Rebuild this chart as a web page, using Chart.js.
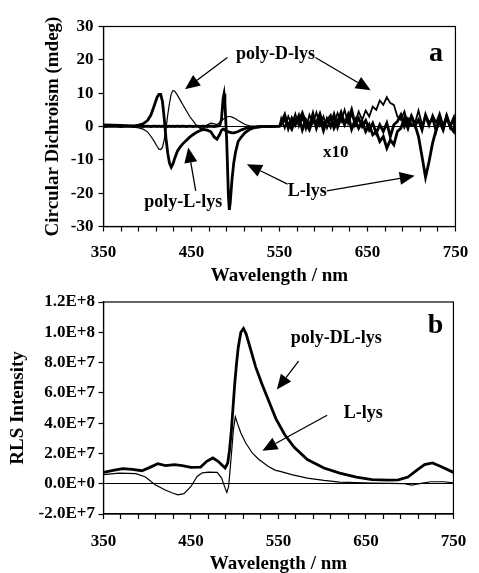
<!DOCTYPE html>
<html>
<head>
<meta charset="utf-8">
<script src="https://cdn.jsdelivr.net/npm/chart.js@4.4.1/dist/chart.umd.min.js"></script>
<style>
  html, body { margin: 0; padding: 0; background: #fff; overflow: hidden; }
  #wrapA { position: absolute; left: 0; top: 0; width: 479px; height: 290px; }
  #wrapB { position: absolute; left: 0; top: 285px; width: 479px; height: 295px; }
</style>
</head>
<body>
<div id="wrapA"><canvas id="cdChart" width="479" height="290"></canvas></div>
<div id="wrapB"><canvas id="rlsChart" width="479" height="295"></canvas></div>
<script>
// Panel a: circular dichroism, 350-550 nm as measured
const cdX = [350, 360, 370, 380, 385, 390, 395, 400, 404, 408, 411, 413, 415, 417, 419,
  421, 423, 425, 427, 429, 431, 434, 437, 440, 444, 448, 452, 456, 460,
  464, 468, 472, 476, 479, 482, 484, 486, 487, 488, 490, 492, 493, 494, 496, 498, 500,
  503, 507, 511, 516, 522, 530, 540, 550];
const polyDcd = [0.2, 0.0, 0.1, 0.0, -0.2, -0.4, -0.8, -1.6, -3.0, -4.6, -6.0, -6.8, -6.9, -6.3, -4.0,
  -0.8, 3.5, 7.0, 9.8, 10.8, 10.6, 9.4, 8.0, 6.6, 4.8, 3.0, 1.6, 0.2, -0.6,
  -0.4, 0.5, 1.0, 0.8, 0.6, 1.2, 1.8, 2.2, 2.4, 2.6, 2.8, 3.0, 3.0, 3.0, 2.8, 2.6, 2.3,
  1.8, 1.2, 0.6, 0.2, 0.0, 0.1, 0.0, 0.1];
const polyLcd = [0.5, 0.4, 0.3, 0.2, 0.2, 0.4, 0.8, 1.8, 3.5, 6.5, 8.8, 9.6, 9.6, 7.5, 2.5,
  -3.5, -8.0, -11.0, -12.2, -11.2, -9.5, -7.4, -6.2, -5.2, -4.2, -3.2, -2.4, -1.7, -1.2,
  -0.9, -1.1, -1.6, -3.2, -3.8, -2.4, -1.2, -0.8, -0.9, -1.1, -1.4, -1.6, -1.7, -1.8, -1.9, -1.9, -1.8,
  -1.5, -1.0, -0.6, -0.3, -0.1, 0.0, 0.0, 0.1];
const lLyscd = [0.0, 0.1, 0.0, 0.1, 0.0, 0.1, 0.0, 0.1, 0.0, 0.1, 0.0, 0.1, 0.0, 0.1, 0.0,
  0.1, 0.0, 0.1, 0.0, 0.1, 0.0, 0.1, 0.0, 0.1, 0.0, 0.1, 0.0, 0.1, 0.0,
  0.1, 0.0, 0.1, 0.0, 0.1, 0.2, 2.0, 8.5, 9.8, 7.0, -4.0, -21.0, -25.0, -23.0, -16.0, -11.0, -7.8,
  -4.5, -3.0, -1.8, -0.9, -0.3, 0.0, 0.0, 0.1];

// Panel a, 550-750 nm shown x10
const x10X = [552, 556, 560, 564, 568, 572, 576, 580, 584, 588, 592, 596, 600, 604, 608, 612, 616,
  620, 624, 628, 632, 636, 640, 644, 648, 652, 656, 660, 664, 668, 672, 676, 680, 684,
  688, 692, 696, 700, 704, 708, 712, 716, 720, 724, 728, 732, 736, 740, 744, 748, 750];
const polyDx10 = [2.5, -0.5, 3.0, 0.5, 3.8, 0.0, 2.8, -0.8, 3.5, 1.0, 4.2, 0.3, 3.0, -0.5, 2.5, 0.8, 4.0,
  1.5, 5.0, 0.8, 3.6, 1.2, 4.5, 2.0, 4.8, 3.0, 6.0, 5.0, 7.8, 6.5, 8.8, 7.0, 6.5, 3.0,
  2.0, 4.5, 0.8, 3.5, 1.0, 4.8, 0.5, 2.8, 0.0, 3.5, 1.2, 4.0, 0.5, 3.0, -0.5, 2.5, 0.5];
const polyLx10 = [1.0, 3.5, -0.5, 2.5, 0.5, 3.2, -1.0, 2.0, 0.2, 3.8, -0.5, 2.5, -1.2, 2.2, 0.0, 3.5, -0.2,
  2.8, 0.5, 3.5, -0.8, 2.0, -0.5, 1.5, -1.5, 0.5, -2.5, -1.5, -4.5, -3.0, -6.5, -4.0, -5.5, -1.5,
  -0.5, 2.5, -0.5, 3.0, 0.2, 2.0, -1.0, 3.5, 0.8, 2.5, -1.2, 2.8, -0.5, 3.2, 0.0, -1.5, 1.5];
const lLysx10 = [0.5, 2.0, 1.0, -0.8, 2.2, 1.5, 4.0, 1.0, -1.0, 2.0, 1.2, 3.8, 0.5, 1.8, 3.2, -0.5, 1.5,
  4.2, 1.0, 2.0, 5.0, 0.5, 2.5, 0.0, 1.8, -1.0, 1.0, -2.0, 0.5, -1.5, 1.0, -3.0, 0.5, 1.5,
  3.5, 0.0, 2.2, 0.5, 0.5, -3.0, -9.0, -15.2, -10.5, -5.0, -1.0, 1.5, -1.0, 3.0, 0.0, 2.5, -1.0];

// Panel b: RLS intensity
const rlsPolyX = [350, 361, 372, 383, 394, 403, 412, 421, 431, 440, 450, 461, 468, 475, 481, 486, 489, 492,
  494, 496, 498, 500, 502, 504, 507, 510, 513, 518, 524, 531, 538, 547, 557, 568, 583, 602,
  620, 639, 657, 676, 687, 698, 709, 717, 726, 735, 750];
const rlsPolyY = [0.75e7, 0.88e7, 1.0e7, 0.95e7, 0.86e7, 1.08e7, 1.32e7, 1.2e7, 1.26e7, 1.2e7, 1.08e7, 1.1e7,
  1.48e7, 1.7e7, 1.48e7, 1.2e7, 1.04e7, 1.37e7, 2.2e7, 3.4e7, 5.0e7, 6.6e7, 7.9e7, 9.0e7, 10.0e7,
  10.25e7, 9.9e7, 8.9e7, 7.7e7, 6.6e7, 5.6e7, 4.3e7, 3.25e7, 2.4e7, 1.6e7, 1.04e7, 0.7e7, 0.44e7,
  0.27e7, 0.24e7, 0.26e7, 0.44e7, 0.93e7, 1.26e7, 1.37e7, 1.15e7, 0.75e7];
const rlsLX = [350, 368, 387, 398, 409, 420, 428, 435, 442, 450, 457, 463, 470, 480, 485, 489, 491, 493,
  494.5, 496, 498.5, 500.7, 503, 507, 512.6, 520, 527, 538, 546, 553, 565, 583, 602, 620, 657,
  694, 702, 713, 724, 739, 750];
const rlsLY = [0.6e7, 0.7e7, 0.66e7, 0.44e7, -0.07e7, -0.4e7, -0.6e7, -0.73e7, -0.66e7, -0.18e7, 0.48e7,
  0.72e7, 0.76e7, 0.75e7, 0.37e7, -0.29e7, -0.57e7, -0.18e7, 0.8e7, 1.8e7, 3.57e7, 4.41e7, 4.0e7,
  3.35e7, 2.69e7, 2.03e7, 1.63e7, 1.15e7, 0.9e7, 0.8e7, 0.6e7, 0.37e7, 0.22e7, 0.11e7, 0.04e7,
  0.0, -0.09e7, 0.02e7, 0.13e7, 0.13e7, 0.05e7];

const SERIF = "'Liberation Serif', 'Times New Roman', serif";
Chart.defaults.font.family = SERIF;
Chart.defaults.font.weight = 'bold';
Chart.defaults.color = '#000';

function pts(xs, ys) {
  return xs.map((x, i) => ({ x: x, y: ys[i] }));
}

// frame round the plot plus text labels and arrows, placed in data units
function notesPlugin(labels, arrows) {
  return {
    id: 'notes',
    afterDatasetsDraw(chart) {
      const { ctx, chartArea: a, scales: { x, y } } = chart;
      ctx.save();
      ctx.strokeStyle = '#000';
      ctx.fillStyle = '#000';
      ctx.lineWidth = 1.2;
      ctx.strokeRect(a.left, a.top, a.right - a.left, a.bottom - a.top);
      ctx.textAlign = 'center';
      ctx.textBaseline = 'middle';
      labels.forEach(l => {
        ctx.font = 'bold ' + l.size + 'px ' + SERIF;
        ctx.fillText(l.text, x.getPixelForValue(l.x), y.getPixelForValue(l.y));
      });
      ctx.lineWidth = 1.3;
      arrows.forEach(ar => {
        const x0 = x.getPixelForValue(ar.from[0]), y0 = y.getPixelForValue(ar.from[1]);
        const x1 = x.getPixelForValue(ar.to[0]), y1 = y.getPixelForValue(ar.to[1]);
        const ang = Math.atan2(y1 - y0, x1 - x0);
        const len = 15, half = 6.5;
        const bx = x1 - len * Math.cos(ang), by = y1 - len * Math.sin(ang);
        ctx.beginPath();
        ctx.moveTo(x0, y0);
        ctx.lineTo(bx, by);
        ctx.stroke();
        ctx.beginPath();
        ctx.moveTo(x1, y1);
        ctx.lineTo(bx + half * Math.sin(ang), by - half * Math.cos(ang));
        ctx.lineTo(bx - half * Math.sin(ang), by + half * Math.cos(ang));
        ctx.closePath();
        ctx.fill();
      });
      ctx.restore();
    }
  };
}

function wavelengthAxis(labelPad, titlePad, height) {
  return {
    type: 'linear',
    min: 350,
    max: 750,
    afterFit: s => { s.height = height; },
    border: { color: '#000', width: 1.2 },
    grid: { drawOnChartArea: false, tickLength: 5, tickColor: '#000', tickWidth: 1.2 },
    ticks: {
      stepSize: 20,
      autoSkip: false,
      maxRotation: 0,
      padding: labelPad,
      font: { size: 17 },
      callback: v => ((v - 350) % 100 === 0 ? String(v) : '')
    },
    title: { display: true, text: 'Wavelength / nm', font: { size: 19 }, padding: { top: 0, bottom: titlePad } }
  };
}

function valueGrid() {
  return {
    drawOnChartArea: true,
    tickLength: 5,
    tickColor: '#000',
    tickWidth: 1.2,
    lineWidth: 1,
    color: c => (c.tick && c.tick.value === 0 ? '#000' : 'rgba(0,0,0,0)')
  };
}

const thick = 2.8, thin = 1.2;

new Chart(document.getElementById('cdChart'), {
  type: 'line',
  data: {
    datasets: [
      { label: 'poly-D-lys', data: pts(cdX, polyDcd).concat(pts(x10X, polyDx10)), borderColor: '#000', borderWidth: thin,
        segment: { borderWidth: c => (c.p0.parsed.x >= 550 ? 1.8 : thin) } },
      { label: 'poly-L-lys', data: pts(cdX, polyLcd).concat(pts(x10X, polyLx10)), borderColor: '#000', borderWidth: thick },
      { label: 'L-lys', data: pts(cdX, lLyscd).concat(pts(x10X, lLysx10)), borderColor: '#000', borderWidth: thick }
    ]
  },
  options: {
    responsive: false,
    devicePixelRatio: 1,
    animation: false,
    layout: { padding: { left: 0, right: 15, top: 26.5, bottom: 0 } },
    elements: { point: { radius: 0 }, line: { tension: 0 } },
    plugins: { legend: { display: false }, tooltip: { enabled: false } },
    scales: {
      x: wavelengthAxis(10.8, 2.1, 63.5),
      y: {
        min: -30,
        max: 30,
        afterFit: s => { s.width = 103.5; },
        border: { color: '#000', width: 1.2 },
        grid: valueGrid(),
        ticks: { stepSize: 10, padding: 5, font: { size: 17 } },
        title: { display: true, text: 'Circular Dichroism (mdeg)', font: { size: 19 }, padding: { top: 41.6, bottom: 0 } }
      }
    }
  },
  plugins: [notesPlugin(
    [
      { text: 'poly-D-lys', x: 545.6, y: 21.7, size: 18 },
      { text: 'a', x: 727.8, y: 21.7, size: 28 },
      { text: 'x10', x: 614, y: -7.8, size: 17 },
      { text: 'poly-L-lys', x: 440.7, y: -22.8, size: 18 },
      { text: 'L-lys', x: 581.5, y: -19.5, size: 18 }
    ],
    [
      { from: [490.8, 20.7], to: [442.6, 11.2] },
      { from: [590.8, 20.7], to: [653.7, 10.9] },
      { from: [454.8, -19.3], to: [446.3, -6.3] },
      { from: [559.2, -17.3], to: [513, -11.3] },
      { from: [603.7, -19.3], to: [703.7, -14.8] }
    ]
  )]
});

new Chart(document.getElementById('rlsChart'), {
  type: 'line',
  data: {
    datasets: [
      { label: 'poly-DL-lys', data: pts(rlsPolyX, rlsPolyY), borderColor: '#000', borderWidth: thick },
      { label: 'L-lys', data: pts(rlsLX, rlsLY), borderColor: '#000', borderWidth: thin }
    ]
  },
  options: {
    responsive: false,
    devicePixelRatio: 1,
    animation: false,
    layout: { padding: { left: 0, right: 15.5, top: 17, bottom: 0 } },
    elements: { point: { radius: 0 }, line: { tension: 0 } },
    plugins: { legend: { display: false }, tooltip: { enabled: false } },
    scales: {
      x: wavelengthAxis(12.8, 4.6, 66),
      y: {
        min: -2e7,
        max: 1.2e8,
        afterFit: s => { s.width = 103.5; },
        border: { color: '#000', width: 1.2 },
        grid: valueGrid(),
        ticks: {
          stepSize: 2e7,
          padding: 3.5,
          font: { size: 17 },
          callback: v => Number(v).toExponential(1).toUpperCase()
        },
        title: { display: true, text: 'RLS Intensity', font: { size: 19 }, padding: { top: 6.6, bottom: 0 } }
      }
    }
  },
  plugins: [notesPlugin(
    [
      { text: 'b', x: 729.6, y: 10.4e7, size: 28 },
      { text: 'poly-DL-lys', x: 616, y: 9.63e7, size: 18 },
      { text: 'L-lys', x: 647, y: 4.67e7, size: 18 }
    ],
    [
      { from: [573, 8.09e7], to: [548.2, 6.22e7] },
      { from: [605.6, 4.52e7], to: [531.6, 2.18e7] }
    ]
  )]
});
</script>
</body>
</html>
